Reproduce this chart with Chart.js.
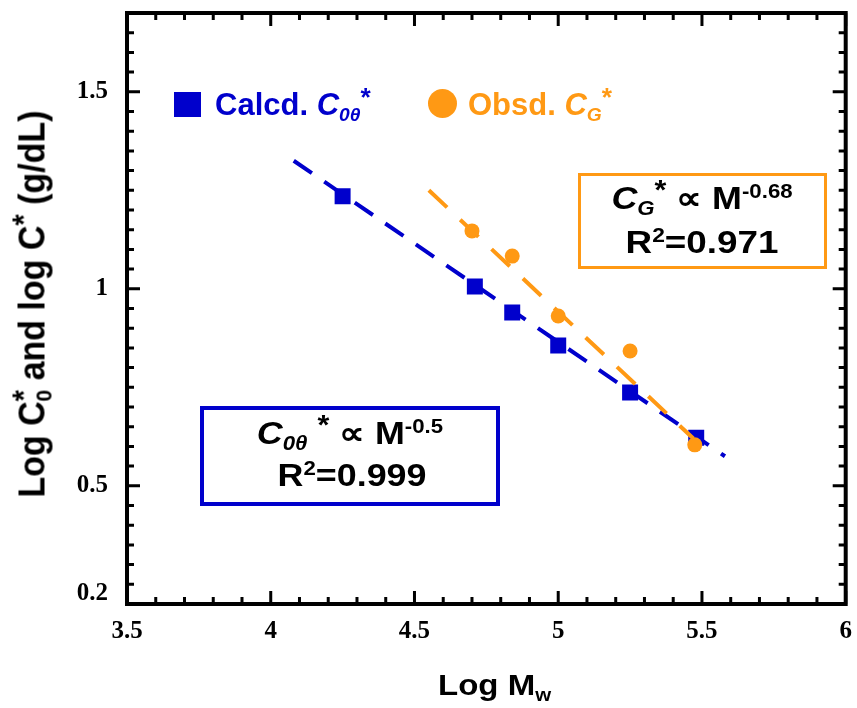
<!DOCTYPE html>
<html>
<head>
<meta charset="utf-8">
<title>Log C* vs Log Mw</title>
<script src="https://cdn.jsdelivr.net/npm/chart.js@4.4.0/dist/chart.umd.min.js"></script>
<style>
  body { margin: 0; background: #fff; }
  #wrap { position: relative; width: 857px; height: 708px; }
  #chart { position: absolute; left: 0; top: 0; }
  .txt { position: absolute; font-family: "Liberation Sans", Arial, sans-serif; font-weight: bold; white-space: nowrap; line-height: 1; color: #000; }
  .txt sup, .txt sub { font-size: 0.62em; line-height: 0; }
  .txt sup { vertical-align: 0.55em; }
  .txt sub { vertical-align: -0.3em; }
  .txt sup.star { font-size: 0.85em; vertical-align: 0.35em; }
  .back { margin-left: -0.55em; }
  .box { position: absolute; box-sizing: border-box; }
  .mid { transform-origin: 50% 50%; }
</style>
</head>
<body>
<div id="wrap">
  <canvas id="chart" width="857" height="708"></canvas>

  <!-- axis titles -->
  <div class="txt" id="ytitle" style="left:32px;top:304px;font-size:34px;transform:translate(-50%,-50%) rotate(-90deg) scaleY(1.06);">Log C<sup class="star">*</sup><sub class="back">0</sub> and log C<sup class="star">*</sup> (g/dL)</div>
  <div class="txt" id="xtitle" style="left:438px;top:670px;font-size:30px;transform-origin:0 50%;transform:scaleX(1.1);">Log M<sub>w</sub></div>

  <!-- legend -->
  <div class="box" style="left:174px;top:92px;width:27px;height:25px;background:#0000cc;"></div>
  <div class="txt" style="left:215px;top:89px;font-size:31px;color:#0000cc;">Calcd. <i>C</i><sub><i>0θ</i></sub><sup class="star">*</sup></div>
  <div class="box" style="left:428px;top:89px;width:29px;height:29px;border-radius:50%;background:#ff9914;"></div>
  <div class="txt" style="left:468px;top:89px;font-size:31px;color:#ff9914;">Obsd. <i>C</i><sub><i>G</i></sub><sup class="star">*</sup></div>

  <!-- fit annotations -->
  <div class="box" style="left:578px;top:173px;width:249px;height:96px;border:3px solid #ff9914;"></div>
  <div class="txt mid" style="left:702px;top:182px;font-size:32px;transform:translateX(-50%) scaleX(1.12);"><i>C</i><sub><i>G</i></sub><sup class="star">*</sup> &#8733; M<sup>-0.68</sup></div>
  <div class="txt mid" style="left:702px;top:226px;font-size:32px;transform:translateX(-50%) scaleX(1.15);">R<sup>2</sup>=0.971</div>

  <div class="box" style="left:200px;top:406px;width:300px;height:100px;border:4px solid #0000cc;"></div>
  <div class="txt mid" style="left:350px;top:417px;font-size:32px;transform:translateX(-50%) scaleX(1.12);"><i>C</i><sub><i>0θ</i></sub> <sup class="star">*</sup> &#8733; M<sup>-0.5</sup></div>
  <div class="txt mid" style="left:352px;top:459px;font-size:32px;transform:translateX(-50%) scaleX(1.12);">R<sup>2</sup>=0.999</div>
</div>

<script>
// calculated overlap concentration C0θ* (squares)
const logMwCalcd = [4.25, 4.71, 4.84, 5.00, 5.25, 5.48];
const logC0Calcd = [1.235, 1.006, 0.94, 0.856, 0.737, 0.622];
// observed gel concentration CG* (circles)
const logMwObsd = [4.70, 4.84, 5.00, 5.25, 5.475];
const logCGObsd = [1.147, 1.083, 0.931, 0.842, 0.604];
// power-law fit lines (end points)
const fitC0X = [4.08, 5.58];
const fitC0Y = [1.325, 0.575];
const fitCGX = [4.55, 5.47];
const fitCGY = [1.25, 0.62];
// labelled ticks
const xTicks = [3.5, 4, 4.5, 5, 5.5, 6];
const yTicks = [0.2, 0.5, 1, 1.5];

const BLUE = '#0000cc';
const ORANGE = '#ff9914';
const pts = (xs, ys) => xs.map((x, i) => ({ x, y: ys[i] }));

// box frame + inward ticks on all four sides
const frameTicks = {
  id: 'frameTicks',
  afterDatasetsDraw(chart) {
    const { ctx, chartArea: a, scales: { x, y } } = chart;
    ctx.save();
    ctx.strokeStyle = '#000';
    ctx.lineWidth = 3;
    ctx.beginPath();
    for (let i = 0; i <= 25; i++) {
      const px = x.getPixelForValue(3.5 + i * 0.1);
      const len = i % 5 === 0 ? 13 : 7;
      ctx.moveTo(px, a.bottom); ctx.lineTo(px, a.bottom - len);
      ctx.moveTo(px, a.top); ctx.lineTo(px, a.top + len);
    }
    for (let i = 0; i <= 30; i++) {
      const v = 0.2 + i * 0.05;
      const py = y.getPixelForValue(v);
      const len = Math.abs(v * 2 - Math.round(v * 2)) < 1e-6 ? 13 : 7;
      ctx.moveTo(a.left, py); ctx.lineTo(a.left + len, py);
      ctx.moveTo(a.right, py); ctx.lineTo(a.right - len, py);
    }
    ctx.stroke();
    ctx.lineWidth = 4;
    ctx.strokeRect(a.left, a.top, a.right - a.left, a.bottom - a.top);
    ctx.restore();
  }
};

const tickFont = { family: '"Liberation Serif", "Times New Roman", serif', size: 25, weight: 'bold', lineHeight: 0.8 };

new Chart(document.getElementById('chart'), {
  type: 'scatter',
  data: {
    datasets: [
      { label: 'Obsd. CG*', data: pts(logMwObsd, logCGObsd), pointStyle: 'circle', pointRadius: 7.5,
        backgroundColor: ORANGE, borderColor: ORANGE, borderWidth: 0 },
      { label: 'CG* fit', type: 'line', data: pts(fitCGX, fitCGY), borderColor: ORANGE, borderWidth: 4,
        borderDash: [25, 18], pointRadius: 0, fill: false },
      { label: 'Calcd. C0θ*', data: pts(logMwCalcd, logC0Calcd), pointStyle: 'rect', pointRadius: 11.3,
        backgroundColor: BLUE, borderColor: BLUE, borderWidth: 0 },
      { label: 'C0θ* fit', type: 'line', data: pts(fitC0X, fitC0Y), borderColor: BLUE, borderWidth: 4,
        borderDash: [22, 15], pointRadius: 0, fill: false }
    ]
  },
  options: {
    responsive: false,
    animation: false,
    events: [],
    layout: { padding: { top: 13, right: 10, left: 0, bottom: 0 } },
    plugins: { legend: { display: false }, tooltip: { enabled: false } },
    scales: {
      x: {
        type: 'linear', min: 3.5, max: 6,
        afterBuildTicks: s => { s.ticks = xTicks.map(v => ({ value: v })); },
        afterFit: s => { s.height = 104; s.paddingLeft = 0; s.paddingRight = 0; },
        grid: { display: false, drawTicks: false },
        border: { display: false },
        ticks: { font: tickFont, color: '#000', padding: 18, maxRotation: 0, autoSkip: false,
                 callback: v => String(v) }
      },
      y: {
        type: 'linear', min: 0.2, max: 1.7,
        afterBuildTicks: s => { s.ticks = yTicks.map(v => ({ value: v })); },
        afterFit: s => { s.width = 127; s.paddingTop = 0; s.paddingBottom = 0; },
        grid: { display: false, drawTicks: false },
        border: { display: false },
        ticks: { font: tickFont, color: '#000', padding: 19, autoSkip: false,
                 callback: v => (v === 0.2 ? ['0.2', ''] : String(v)) }
      }
    }
  },
  plugins: [frameTicks]
});
</script>
</body>
</html>
